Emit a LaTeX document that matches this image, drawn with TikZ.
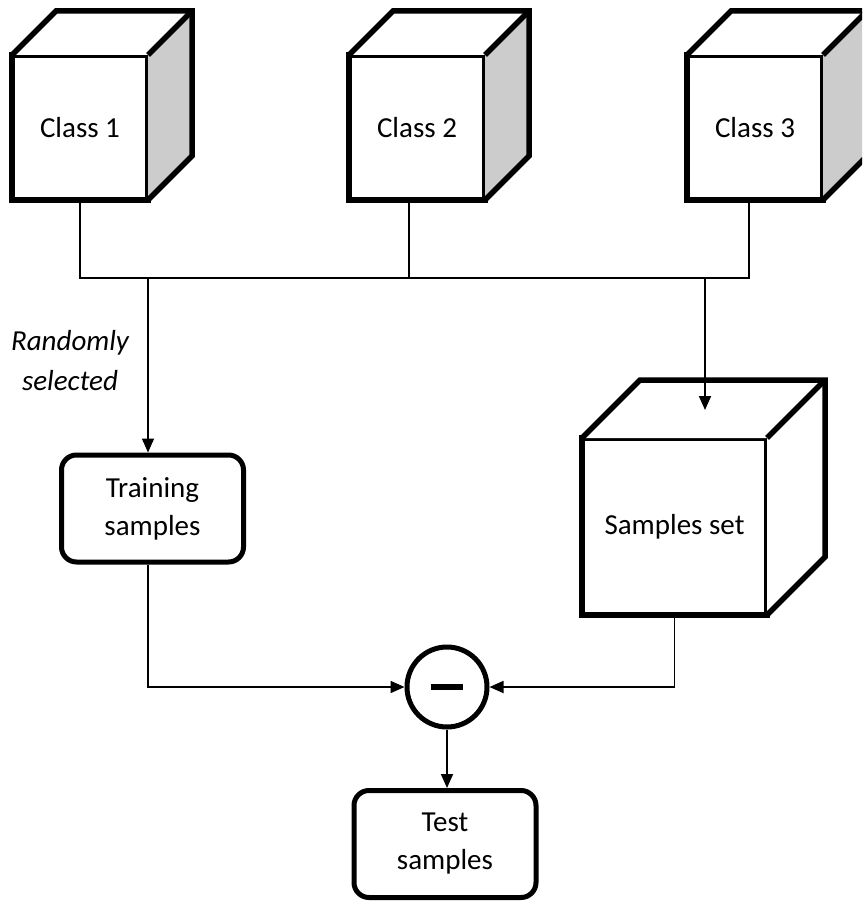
\documentclass[tikz,border=0pt]{standalone}
\usepackage{fontspec}
\setmainfont{Carlito}
\usetikzlibrary{arrows.meta,calc}

\begin{document}
\begin{tikzpicture}[x=1pt,y=-1pt,
  font=\fontsize{29}{38}\selectfont,
  cube/.style={draw,line width=5.5pt,outer sep=0pt,minimum width=136pt,minimum height=145pt},
  box/.style={draw,line width=5pt,rounded corners=15pt,align=center,minimum width=182pt,minimum height=107pt},
  link/.style={line width=1.8pt},
  arr/.style={link,-{Triangle[length=14pt,width=12pt]}}]
  \clip (0,0) rectangle (862,901);
  \node[cube] (c1) at (80,127.5) {Class 1};
  \node[cube] (c2) at (417,127.5) {Class 2};
  \node[cube] (c3) at (755,127.5) {Class 3};
  \node[cube,minimum width=185pt,minimum height=177pt] (ss) at (674.5,526.5) {Samples set};
  \node[box] (train) at (152.5,508.5) {Training\\samples};
  \node[box] (test) at (445,844) {Test\\samples};
  \node[draw,circle,line width=5pt,minimum size=80pt,inner sep=0pt] (minus) at (447,687) {\rule{32pt}{6pt}};
  \node[align=center,font=\fontsize{29}{40}\selectfont\itshape] (rs) at (70,361) {Randomly\\selected};
  % top and side faces of the cubes
  \foreach \n/\d/\s in {c1/44/black!20,c2/44/black!20,c3/44/black!20,ss/58/white} {
    \fill[white] (\n.north west) -- ++(\d,-\d) -- ($(\n.north east)+(\d,-\d)$) -- (\n.north east) -- cycle;
    \fill[\s] (\n.north east) -- ++(\d,-\d) -- ($(\n.south east)+(\d,-\d)$) -- (\n.south east) -- cycle;
    \draw[line width=5.5pt] (\n.north west) -- ++(\d,-\d) -- ($(\n.north east)+(\d,-\d)$) -- ($(\n.south east)+(\d,-\d)$) -- (\n.south east);
    \draw[line width=5.5pt] (\n.north east) -- ++(\d,-\d);
  }
  \coordinate (d2) at ([xshift=-8pt]c2.south);
  \coordinate (d3) at ([xshift=-6pt]c3.south);
  \coordinate (dt) at (148,278);
  \coordinate (ds) at (705,278);
  \draw[link] (c1.south) |- (d3 |- dt) -- (d3);
  \draw[link] (d2) -- (d2 |- dt);
  \draw[arr] (dt) -- (dt |- train.north);
  \draw[arr] (ds) -- ($(ds |- ss.north)+(0,-28)$);
  \draw[arr] (train.south -| dt) |- (minus.west);
  \draw[arr] (ss.south) |- (minus.east);
  \draw[arr] (minus.south) -- (minus.south |- test.north);
\end{tikzpicture}
\end{document}
